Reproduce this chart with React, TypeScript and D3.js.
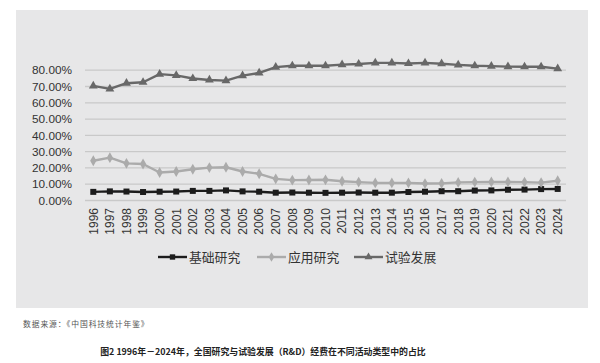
import React, { useEffect, useRef } from "react";
import * as d3 from "d3";

const years = ["1996","1997","1998","1999","2000","2001","2002","2003","2004","2005","2006","2007","2008","2009","2010","2011","2012","2013","2014","2015","2016","2017","2018","2019","2020","2021","2022","2023","2024"];
const basic = [5.3,5.6,5.5,5.2,5.4,5.5,5.9,5.9,6.2,5.6,5.4,4.8,4.9,4.8,4.7,4.8,4.9,4.8,4.8,5.2,5.4,5.7,5.7,6.1,6.2,6.6,6.7,7.0,7.1];
const applied = [24.4,26.3,22.8,22.4,17.2,17.8,19.2,20.2,20.4,17.8,16.4,13.3,12.5,12.6,12.7,11.8,11.3,10.8,10.8,10.8,10.4,10.5,11.1,11.3,11.4,11.4,11.3,11.0,12.1];
const experimental = [70.4,68.5,72.0,72.6,77.6,76.8,74.9,74.0,73.6,76.7,78.3,81.9,82.7,82.7,82.7,83.4,83.8,84.5,84.5,84.1,84.5,84.0,83.3,82.7,82.5,82.2,82.1,82.1,81.0];
const yTicks = [0,10,20,30,40,50,60,70,80];
const seriesNames = ["基础研究","应用研究","试验发展"];
const sourceText = "数据来源：《中国科技统计年鉴》";
const captionText = "图2  1996年－2024年，全国研究与试验发展（R&D）经费在不同活动类型中的占比";

export default function App() {
  const ref = useRef<SVGSVGElement>(null);
  useEffect(() => {
    const svg = d3.select(ref.current);
    svg.selectAll("*").remove();
    const W = 600, H = 363;
    const left = 85, right = 566, top = 70.2, bottom = 200.5;

    svg.append("rect").attr("x", 16).attr("y", 10).attr("width", 572).attr("height", 298).attr("fill", "#e7e7e8");

    const x = d3.scaleBand<string>().domain(years).range([left, right]);
    const y = d3.scaleLinear().domain([0, 80]).range([bottom, top]);
    const cx = (d: string) => (x(d) as number) + x.bandwidth() / 2;

    const g = svg.append("g");
    g.selectAll("line.grid").data(yTicks).enter().append("line")
      .attr("x1", left).attr("x2", right)
      .attr("y1", d => y(d)).attr("y2", d => y(d))
      .attr("stroke", "#c9c9c9").attr("stroke-width", 1.3);

    g.selectAll("text.ytick").data(yTicks).enter().append("text")
      .attr("x", 72).attr("y", d => y(d)).attr("dy", "0.36em")
      .attr("text-anchor", "end")
      .attr("font-family", "Liberation Sans, Arial, sans-serif")
      .attr("font-size", 11.8).attr("fill", "#333")
      .text(d => d3.format(".2f")(d) + "%");

    g.selectAll("text.xtick").data(years).enter().append("text")
      .attr("transform", d => `translate(${cx(d)},208) rotate(-90)`)
      .attr("dy", "0.36em")
      .attr("text-anchor", "end")
      .attr("font-family", "Liberation Sans, Arial, sans-serif")
      .attr("font-size", 12).attr("fill", "#333")
      .text(d => d);

    const series = [
      { name: seriesNames[0], vals: basic, color: "#1c1c1c", shape: d3.symbolSquare, size: 36 },
      { name: seriesNames[1], vals: applied, color: "#ababab", shape: d3.symbolDiamond, size: 34 },
      { name: seriesNames[2], vals: experimental, color: "#686868", shape: d3.symbolTriangle, size: 34 },
    ];

    const line = d3.line<number>().x((_, i) => cx(years[i])).y(d => y(d));
    series.forEach(s => {
      g.append("path").attr("d", line(s.vals) as string).attr("fill", "none")
        .attr("stroke", s.color).attr("stroke-width", 2.4).attr("stroke-linejoin", "round");
      g.selectAll(null).data(s.vals).enter().append("path")
        .attr("d", d3.symbol().type(s.shape).size(s.size)() as string)
        .attr("transform", (d, i) => `translate(${cx(years[i])},${y(d)})`)
        .attr("fill", s.color);
    });

    const legendX = [158, 257, 354];
    series.forEach((s, i) => {
      const lx = legendX[i];
      g.append("line").attr("x1", lx).attr("x2", lx + 29).attr("y1", 257).attr("y2", 257)
        .attr("stroke", s.color).attr("stroke-width", 2.4);
      g.append("path").attr("d", d3.symbol().type(s.shape).size(s.size * 0.8)() as string)
        .attr("transform", `translate(${lx + 14.5},257)`).attr("fill", s.color);
      g.append("text").attr("x", lx + 31).attr("y", 257).attr("dy", "0.36em")
        .attr("font-family", "Noto Sans CJK SC, sans-serif").attr("font-size", 12.8).attr("fill", "#333")
        .text(s.name);
    });

    svg.append("text").attr("x", 23).attr("y", 324).attr("dy", "0.36em")
      .attr("font-family", "Noto Sans CJK SC, sans-serif").attr("font-size", 7.8)
      .attr("letter-spacing", 0.9).attr("fill", "#555")
      .text(sourceText);

    svg.append("text").attr("x", 263).attr("y", 352).attr("dy", "0.36em")
      .attr("text-anchor", "middle")
      .attr("font-family", "Noto Sans CJK SC, sans-serif").attr("font-size", 8.9)
      .attr("font-weight", "bold").attr("fill", "#222")
      .text(captionText);
  }, []);
  return (
    <div style={{ position: "absolute", left: 0, top: 0 }}>
      <svg ref={ref} width={600} height={363} style={{ display: "block", background: "#fff" }} />
    </div>
  );
}
